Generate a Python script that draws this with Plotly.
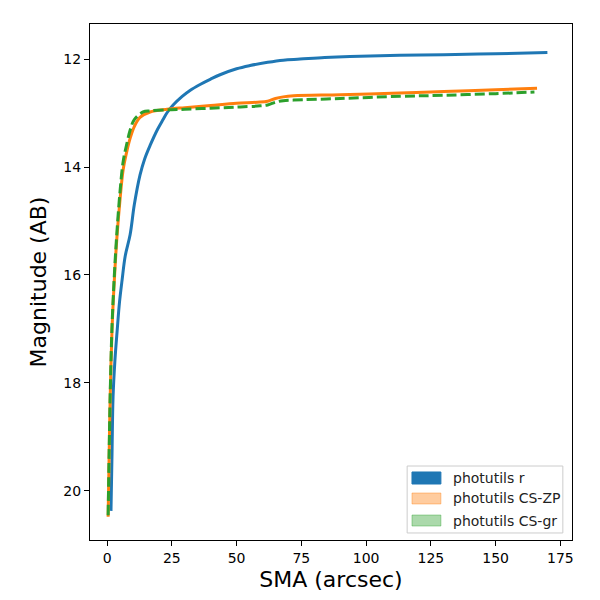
import plotly.graph_objects as go

# photutils r profile
sma_r = [1.5, 1.9, 2.3, 3.0, 3.9, 4.8, 5.8, 7.0, 8.9, 10.5, 12.7, 14.5, 16.6, 19.5, 21.6,
         23.2, 25.5, 29, 32, 35.9, 40, 43.6, 50, 55.2, 62, 68, 74.5, 84, 93.8, 113, 130,
         150, 170]
mag_r = [20.37, 19.3, 18.26, 17.6, 17.02, 16.5, 16.09, 15.65, 15.25, 14.7, 14.15, 13.85,
         13.6, 13.3, 13.12, 12.99, 12.85, 12.69, 12.58, 12.47, 12.37, 12.29, 12.18, 12.12,
         12.06, 12.02, 12.0, 11.97, 11.95, 11.93, 11.92, 11.9, 11.88]

# photutils CS-ZP profile
sma_zp = [0.4, 0.8, 1.2, 1.9, 2.8, 3.8, 5.0, 6.2, 7.7, 9.0, 10.5, 12.7, 16.6, 23.2,
          30, 40, 50, 58, 62, 65, 68, 72, 90, 113, 130, 150, 166]
mag_zp = [20.48, 19.3, 18.26, 17.02, 16.09, 15.3, 14.6, 14.05, 13.69, 13.45, 13.25,
          13.08, 12.98, 12.93, 12.9, 12.86, 12.82, 12.8, 12.78, 12.73, 12.7, 12.68, 12.66,
          12.63, 12.6, 12.57, 12.54]

# photutils CS-gr profile
sma_gr = [0.4, 0.8, 1.2, 1.9, 2.8, 3.8, 5.0, 6.2, 7.7, 9.0, 10.5, 13.9, 16.6, 23.2,
          30, 40, 50, 58, 62, 65, 68, 72, 90, 113, 130, 150, 165]
mag_gr = [20.45, 19.25, 18.2, 16.95, 16.0, 15.2, 14.45, 13.9, 13.55, 13.3, 13.12, 12.98,
          12.96, 12.94, 12.93, 12.91, 12.89, 12.87, 12.85, 12.8, 12.77, 12.76, 12.73,
          12.69, 12.67, 12.64, 12.61]

names = ["photutils r", "photutils CS-ZP", "photutils CS-gr"]
patch_colors = ["#1f77b4", "rgba(255,127,14,0.4)", "rgba(44,160,44,0.4)"]

fig = go.Figure()

fig.add_trace(go.Scatter(x=sma_r, y=mag_r, mode="lines", name=names[0], showlegend=False,
                         line=dict(color="#1f77b4", width=3, shape="spline")))
fig.add_trace(go.Scatter(x=sma_zp, y=mag_zp, mode="lines", name=names[1], showlegend=False,
                         line=dict(color="#ff7f0e", width=3, shape="spline")))
fig.add_trace(go.Scatter(x=sma_gr, y=mag_gr, mode="lines", name=names[2], showlegend=False,
                         line=dict(color="#2ca02c", width=3, dash="10px,4px", shape="spline")))

# legend drawn by hand so the patches look like matplotlib's
shapes = [dict(type="rect", xref="paper", yref="paper", x0=0.658, x1=0.981, y0=0.0136,
               y1=0.1434, fillcolor="rgba(255,255,255,0.8)",
               line=dict(color="#cccccc", width=1))]
annotations = []
rows = [(0.1085, 0.1318), (0.0698, 0.0911), (0.0271, 0.0484)]
for name, fc, (y0, y1) in zip(names, patch_colors, rows):
    shapes.append(dict(type="rect", xref="paper", yref="paper", x0=0.668, x1=0.728,
                       y0=y0, y1=y1, fillcolor=fc, line=dict(color=fc, width=1)))
    annotations.append(dict(xref="paper", yref="paper", x=0.749, y=(y0 + y1) / 2,
                            text=name, showarrow=False, xanchor="left", yanchor="middle",
                            font=dict(size=14, color="#222222")))

axis_common = dict(showline=True, mirror=True, linecolor="black", linewidth=1,
                   ticks="outside", ticklen=5, tickcolor="black", showgrid=False,
                   zeroline=False, tickfont=dict(size=14, color="black"))

fig.update_layout(
    width=600, height=600,
    paper_bgcolor="white", plot_bgcolor="white",
    font=dict(family="DejaVu Sans", color="black"),
    margin=dict(l=82, r=36, t=16, b=68),
    showlegend=False,
    shapes=shapes,
    annotations=annotations,
    xaxis=dict(title=dict(text="SMA (arcsec)", font=dict(size=22), standoff=6),
               range=[-6.6, 179.5], tickvals=[0, 25, 50, 75, 100, 125, 150, 175],
               **axis_common),
    yaxis=dict(title=dict(text="Magnitude (AB)", font=dict(size=22), standoff=10),
               range=[20.91, 11.35], tickvals=[12, 14, 16, 18, 20], **axis_common),
)

fig.write_html("out.html")
